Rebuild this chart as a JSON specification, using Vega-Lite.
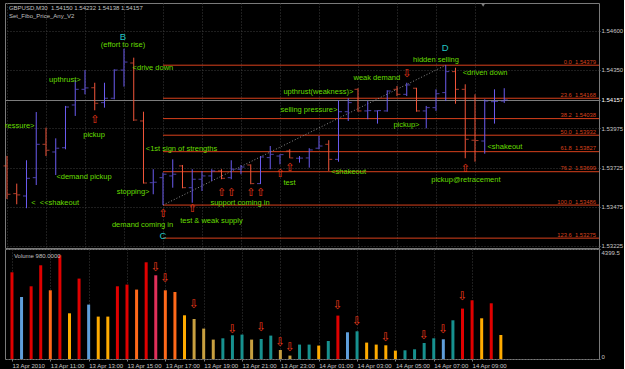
{
  "$schema": "https://vega.github.io/schema/vega-lite/v6.json",
  "background": "#000000",
  "padding": {"left": 2, "top": 2, "right": 0, "bottom": 0},
  "bounds": "flush",
  "spacing": 1,
  "config": {
    "view": {"stroke": "#7a7a7a", "strokeWidth": 1},
    "axis": {"labelFont": "Liberation Sans", "labelFontSize": 6, "labelColor": "#c8c8c8", "gridColor": "#3c3c3c", "gridDash": [1, 2], "tickColor": "#808080", "domain": false},
    "text": {"font": "Liberation Sans"}
  },
  "datasets": {
    "bars": [
      {"t": "2010-04-13T09:00", "o": 1.53736, "h": 1.53800, "l": 1.53525, "c": 1.53555, "v": 3468, "vc": "ultra"},
      {"t": "2010-04-13T09:30", "o": 1.53559, "h": 1.53623, "l": 1.53491, "c": 1.53551, "v": 2480, "vc": "upvol"},
      {"t": "2010-04-13T10:00", "o": 1.53544, "h": 1.53772, "l": 1.53466, "c": 1.53657, "v": 2908, "vc": "ultra"},
      {"t": "2010-04-13T10:30", "o": 1.53661, "h": 1.54080, "l": 1.53614, "c": 1.53874, "v": 3748, "vc": "ultra"},
      {"t": "2010-04-13T11:00", "o": 1.53874, "h": 1.53980, "l": 1.53799, "c": 1.53836, "v": 2748, "vc": "high"},
      {"t": "2010-04-13T11:30", "o": 1.53825, "h": 1.53912, "l": 1.53678, "c": 1.53849, "v": 4148, "vc": "ultra"},
      {"t": "2010-04-13T12:00", "o": 1.53852, "h": 1.54119, "l": 1.53842, "c": 1.54112, "v": 1828, "vc": "above"},
      {"t": "2010-04-13T12:30", "o": 1.54125, "h": 1.54283, "l": 1.54055, "c": 1.54225, "v": 3216, "vc": "ultra"},
      {"t": "2010-04-13T13:00", "o": 1.54225, "h": 1.54348, "l": 1.54193, "c": 1.54234, "v": 2176, "vc": "upvol"},
      {"t": "2010-04-13T13:30", "o": 1.54235, "h": 1.54267, "l": 1.54091, "c": 1.54136, "v": 1696, "vc": "above"},
      {"t": "2010-04-13T14:00", "o": 1.54140, "h": 1.54267, "l": 1.54108, "c": 1.54168, "v": 1696, "vc": "above"},
      {"t": "2010-04-13T14:30", "o": 1.54168, "h": 1.54353, "l": 1.54161, "c": 1.54348, "v": 2908, "vc": "ultra"},
      {"t": "2010-04-13T15:00", "o": 1.54348, "h": 1.54484, "l": 1.54242, "c": 1.54399, "v": 2976, "vc": "ultra"},
      {"t": "2010-04-13T15:30", "o": 1.54393, "h": 1.54427, "l": 1.54023, "c": 1.54029, "v": 2776, "vc": "high"},
      {"t": "2010-04-13T16:00", "o": 1.54023, "h": 1.54082, "l": 1.53623, "c": 1.53627, "v": 3868, "vc": "ultra"},
      {"t": "2010-04-13T16:30", "o": 1.53629, "h": 1.53715, "l": 1.53555, "c": 1.53632, "v": 3348, "vc": "climax"},
      {"t": "2010-04-13T17:00", "o": 1.53661, "h": 1.53693, "l": 1.53486, "c": 1.53683, "v": 2748, "vc": "high"},
      {"t": "2010-04-13T17:30", "o": 1.53672, "h": 1.53778, "l": 1.53597, "c": 1.53683, "v": 2680, "vc": "high"},
      {"t": "2010-04-13T18:00", "o": 1.53736, "h": 1.53742, "l": 1.53593, "c": 1.53597, "v": 1748, "vc": "above"},
      {"t": "2010-04-13T18:30", "o": 1.53597, "h": 1.53715, "l": 1.53501, "c": 1.53651, "v": 1600, "vc": "avg"},
      {"t": "2010-04-13T19:00", "o": 1.53651, "h": 1.53704, "l": 1.53576, "c": 1.53672, "v": 1216, "vc": "avg"},
      {"t": "2010-04-13T19:30", "o": 1.53672, "h": 1.53715, "l": 1.53640, "c": 1.53704, "v": 776, "vc": "avg"},
      {"t": "2010-04-13T20:00", "o": 1.53704, "h": 1.53715, "l": 1.53651, "c": 1.53657, "v": 828, "vc": "low"},
      {"t": "2010-04-13T20:30", "o": 1.53661, "h": 1.53772, "l": 1.53651, "c": 1.53715, "v": 948, "vc": "low"},
      {"t": "2010-04-13T21:00", "o": 1.53715, "h": 1.53742, "l": 1.53683, "c": 1.53729, "v": 976, "vc": "low"},
      {"t": "2010-04-13T21:30", "o": 1.53742, "h": 1.53746, "l": 1.53619, "c": 1.53623, "v": 776, "vc": "avg"},
      {"t": "2010-04-13T22:00", "o": 1.53623, "h": 1.53799, "l": 1.53620, "c": 1.53793, "v": 800, "vc": "low"},
      {"t": "2010-04-13T22:30", "o": 1.53789, "h": 1.53863, "l": 1.53715, "c": 1.53810, "v": 936, "vc": "low"},
      {"t": "2010-04-13T23:00", "o": 1.53799, "h": 1.53810, "l": 1.53746, "c": 1.53808, "v": 360, "vc": "avg"},
      {"t": "2010-04-13T23:30", "o": 1.53831, "h": 1.53842, "l": 1.53785, "c": 1.53787, "v": 136, "vc": "avg"},
      {"t": "2010-04-14T00:00", "o": 1.53785, "h": 1.53799, "l": 1.53757, "c": 1.53786, "v": 576, "vc": "low"},
      {"t": "2010-04-14T00:30", "o": 1.53787, "h": 1.53849, "l": 1.53725, "c": 1.53838, "v": 576, "vc": "low"},
      {"t": "2010-04-14T01:00", "o": 1.53849, "h": 1.53927, "l": 1.53842, "c": 1.53863, "v": 536, "vc": "above"},
      {"t": "2010-04-14T01:30", "o": 1.53874, "h": 1.53900, "l": 1.53704, "c": 1.53778, "v": 720, "vc": "low"},
      {"t": "2010-04-14T02:00", "o": 1.53778, "h": 1.54155, "l": 1.53763, "c": 1.54082, "v": 1736, "vc": "ultra"},
      {"t": "2010-04-14T02:30", "o": 1.54082, "h": 1.54168, "l": 1.54023, "c": 1.54140, "v": 1068, "vc": "upvol"},
      {"t": "2010-04-14T03:00", "o": 1.54225, "h": 1.54232, "l": 1.54082, "c": 1.54087, "v": 1108, "vc": "low"},
      {"t": "2010-04-14T03:30", "o": 1.54087, "h": 1.54150, "l": 1.54034, "c": 1.54089, "v": 656, "vc": "above"},
      {"t": "2010-04-14T04:00", "o": 1.54087, "h": 1.54091, "l": 1.54006, "c": 1.54089, "v": 576, "vc": "above"},
      {"t": "2010-04-14T04:30", "o": 1.54087, "h": 1.54219, "l": 1.54082, "c": 1.54214, "v": 548, "vc": "above"},
      {"t": "2010-04-14T05:00", "o": 1.54225, "h": 1.54246, "l": 1.54182, "c": 1.54193, "v": 336, "vc": "above"},
      {"t": "2010-04-14T05:30", "o": 1.54193, "h": 1.54267, "l": 1.54182, "c": 1.54253, "v": 348, "vc": "low"},
      {"t": "2010-04-14T06:00", "o": 1.54232, "h": 1.54235, "l": 1.54082, "c": 1.54087, "v": 388, "vc": "low"},
      {"t": "2010-04-14T06:30", "o": 1.54087, "h": 1.54119, "l": 1.53976, "c": 1.54108, "v": 640, "vc": "low"},
      {"t": "2010-04-14T07:00", "o": 1.54108, "h": 1.54225, "l": 1.54087, "c": 1.54197, "v": 828, "vc": "low"},
      {"t": "2010-04-14T07:30", "o": 1.54204, "h": 1.54379, "l": 1.54150, "c": 1.54338, "v": 788, "vc": "upvol"},
      {"t": "2010-04-14T08:00", "o": 1.54338, "h": 1.54363, "l": 1.54133, "c": 1.54225, "v": 1548, "vc": "low"},
      {"t": "2010-04-14T08:30", "o": 1.54225, "h": 1.54257, "l": 1.53785, "c": 1.53906, "v": 2016, "vc": "ultra"},
      {"t": "2010-04-14T09:00", "o": 1.53900, "h": 1.54193, "l": 1.53763, "c": 1.53898, "v": 2348, "vc": "ultra"},
      {"t": "2010-04-14T09:30", "o": 1.53895, "h": 1.54161, "l": 1.53814, "c": 1.54150, "v": 1628, "vc": "above"},
      {"t": "2010-04-14T10:00", "o": 1.54146, "h": 1.54225, "l": 1.54006, "c": 1.54148, "v": 2228, "vc": "ultra"},
      {"t": "2010-04-14T10:30", "o": 1.54150, "h": 1.54232, "l": 1.54138, "c": 1.54157, "v": 960, "vc": "above"}
    ],
    "fib": [
      {"label": "0.0\u00a0\u00a01.54379", "price": 1.54379, "start": "2010-04-13T17:00", "end": "2010-04-14T15:21:33"},
      {"label": "23.6\u00a0\u00a01.54168", "price": 1.54168, "start": "2010-04-13T17:00", "end": "2010-04-14T15:21:33"},
      {"label": "38.2\u00a0\u00a01.54038", "price": 1.54038, "start": "2010-04-13T17:00", "end": "2010-04-14T15:21:33"},
      {"label": "50.0\u00a0\u00a01.53932", "price": 1.53932, "start": "2010-04-13T17:00", "end": "2010-04-14T15:21:33"},
      {"label": "61.8\u00a0\u00a01.53827", "price": 1.53827, "start": "2010-04-13T17:00", "end": "2010-04-14T15:21:33"},
      {"label": "76.2\u00a0\u00a01.53699", "price": 1.53699, "start": "2010-04-13T17:00", "end": "2010-04-14T15:21:33"},
      {"label": "100.0\u00a0\u00a01.53486", "price": 1.53486, "start": "2010-04-13T17:00", "end": "2010-04-14T15:21:33"},
      {"label": "123.6\u00a0\u00a01.53275", "price": 1.53275, "start": "2010-04-13T17:00", "end": "2010-04-14T15:21:33"}
    ],
    "cd": [
      {"t": "2010-04-13T17:00", "p": 1.53486},
      {"t": "2010-04-14T07:30", "p": 1.54379}
    ],
    "notes": [
      {"t": "2010-04-13T14:57", "p": 1.54506, "text": "(effort to rise)"},
      {"t": "2010-04-13T16:29", "p": 1.54361, "text": "<drive down"},
      {"t": "2010-04-13T11:58", "p": 1.54285, "text": "upthrust>"},
      {"t": "2010-04-13T09:33", "p": 1.53991, "text": "pressure>"},
      {"t": "2010-04-13T13:28", "p": 1.53933, "text": "pickup"},
      {"t": "2010-04-13T12:57", "p": 1.53665, "text": "<demand pickup"},
      {"t": "2010-04-13T11:28", "p": 1.53499, "text": "<\u00a0\u00a0<<shakeout"},
      {"t": "2010-04-13T17:57", "p": 1.53846, "text": "<1st sign of strengths"},
      {"t": "2010-04-13T15:28", "p": 1.53572, "text": "stopping>"},
      {"t": "2010-04-13T15:57", "p": 1.53358, "text": "demand coming in"},
      {"t": "2010-04-13T19:29", "p": 1.53384, "text": "test & weak supply"},
      {"t": "2010-04-13T20:57", "p": 1.53497, "text": "support coming in"},
      {"t": "2010-04-13T23:29", "p": 1.53629, "text": "test"},
      {"t": "2010-04-14T02:31", "p": 1.53699, "text": "<shakeout"},
      {"t": "2010-04-14T08:32", "p": 1.53646, "text": "pickup@retracement"},
      {"t": "2010-04-14T10:32", "p": 1.53857, "text": "<shakeout"},
      {"t": "2010-04-14T05:29", "p": 1.53997, "text": "pickup>"},
      {"t": "2010-04-14T00:29", "p": 1.54091, "text": "selling pressure>"},
      {"t": "2010-04-14T00:58", "p": 1.54208, "text": "upthrust(weakness)>"},
      {"t": "2010-04-14T03:58", "p": 1.54300, "text": "weak demand"},
      {"t": "2010-04-14T07:00", "p": 1.54415, "text": "hidden selling"},
      {"t": "2010-04-14T09:31", "p": 1.54326, "text": "<driven down"}
    ],
    "letters": [
      {"t": "2010-04-13T14:57", "p": 1.54562, "text": "B"},
      {"t": "2010-04-13T17:00", "p": 1.53289, "text": "C"},
      {"t": "2010-04-14T07:28", "p": 1.54491, "text": "D"}
    ],
    "upArrows": [
      {"t": "2010-04-13T13:30", "p": 1.54029},
      {"t": "2010-04-13T17:00", "p": 1.53426},
      {"t": "2010-04-13T18:30", "p": 1.53459},
      {"t": "2010-04-13T20:00", "p": 1.53565},
      {"t": "2010-04-13T20:30", "p": 1.53565},
      {"t": "2010-04-13T21:30", "p": 1.53565},
      {"t": "2010-04-13T22:00", "p": 1.53565},
      {"t": "2010-04-13T23:00", "p": 1.53683},
      {"t": "2010-04-13T23:30", "p": 1.53720},
      {"t": "2010-04-14T08:30", "p": 1.53716}
    ],
    "downArrows": [
      {"t": "2010-04-14T05:30", "p": 1.54323}
    ],
    "header": [
      {"t": "2010-04-13T09:06", "p": 1.54744, "text": "GBPUSD,M30\u00a0\u00a01.54150 1.54232 1.54138 1.54157"},
      {"t": "2010-04-13T09:06", "p": 1.54693, "text": "Set_Fibo_Price_Any_V2"}
    ],
    "shift": [
      {"t": "2010-04-14T09:25", "p": 1.54763}
    ],
    "volArrows": [
      {"t": "2010-04-13T16:30", "v": 3672},
      {"t": "2010-04-13T17:00", "v": 3220},
      {"t": "2010-04-13T18:30", "v": 2204},
      {"t": "2010-04-13T20:30", "v": 1204},
      {"t": "2010-04-13T22:00", "v": 1272},
      {"t": "2010-04-13T23:00", "v": 672},
      {"t": "2010-04-13T23:30", "v": 472},
      {"t": "2010-04-14T02:00", "v": 2140},
      {"t": "2010-04-14T03:00", "v": 1512},
      {"t": "2010-04-14T04:30", "v": 884},
      {"t": "2010-04-14T06:30", "v": 952},
      {"t": "2010-04-14T07:30", "v": 1204},
      {"t": "2010-04-14T08:30", "v": 2512}
    ],
    "volHeader": [
      {"t": "2010-04-13T09:06", "v": 4124, "text": "Volume 980.0000"}
    ]
  },
  "vconcat": [
    {
      "width": 594,
      "height": 245,
      "layer": [
        {
          "data": {"name": "fib"},
          "mark": {"type": "rule", "color": "#d8401c", "strokeWidth": 1},
          "encoding": {
            "x": {
              "field": "start", "type": "temporal", "title": null,
              "scale": {"domain": [{"year": 2010, "month": 4, "date": 13, "hours": 8, "minutes": 53, "seconds": 51}, {"year": 2010, "month": 4, "date": 14, "hours": 15, "minutes": 21, "seconds": 33}], "nice": false},
              "axis": {"labels": false, "ticks": false, "domain": false, "grid": true, "title": null,
                "values": [
                  {"year": 2010, "month": 4, "date": 13, "hours": 9}, {"year": 2010, "month": 4, "date": 13, "hours": 11},
                  {"year": 2010, "month": 4, "date": 13, "hours": 13}, {"year": 2010, "month": 4, "date": 13, "hours": 15},
                  {"year": 2010, "month": 4, "date": 13, "hours": 17}, {"year": 2010, "month": 4, "date": 13, "hours": 19},
                  {"year": 2010, "month": 4, "date": 13, "hours": 21}, {"year": 2010, "month": 4, "date": 13, "hours": 23},
                  {"year": 2010, "month": 4, "date": 14, "hours": 1}, {"year": 2010, "month": 4, "date": 14, "hours": 3},
                  {"year": 2010, "month": 4, "date": 14, "hours": 5}, {"year": 2010, "month": 4, "date": 14, "hours": 7},
                  {"year": 2010, "month": 4, "date": 14, "hours": 9}
                ]}
            },
            "x2": {"field": "end"},
            "y": {
              "field": "price", "type": "quantitative", "title": null,
              "scale": {"domain": [1.53212, 1.54776], "nice": false, "zero": false},
              "axis": {
                "orient": "right", "title": null, "format": ".5f", "tickSize": 1, "labelPadding": 1,
                "labelOverlap": false, "labelFlush": false, "grid": true,
                "values": [1.54725, 1.546, 1.54475, 1.5435, 1.54225, 1.541, 1.53975, 1.5385, 1.53725, 1.536, 1.53475, 1.5335, 1.53225, 1.54157],
                "labelColor": {"condition": {"test": "datum.value == 1.54157", "value": "#ffffff"}, "value": "#c8c8c8"},
                "gridColor": {"condition": {"test": "datum.value == 1.54157", "value": "#7c7c7c"}, "value": "#3c3c3c"},
                "gridDash": {"condition": {"test": "datum.value == 1.54157", "value": []}, "value": [1, 2]}
              }
            }
          }
        },
        {
          "data": {"name": "fib"},
          "mark": {"type": "text", "color": "#d8401c", "fontSize": 5.8, "align": "right", "baseline": "alphabetic", "dx": -3, "dy": -1.5},
          "encoding": {
            "x": {"field": "end", "type": "temporal"},
            "y": {"field": "price", "type": "quantitative"},
            "text": {"field": "label"}
          }
        },
        {
          "data": {"name": "cd"},
          "mark": {"type": "line", "color": "#8c8c8c", "strokeWidth": 1, "strokeDash": [1, 2]},
          "encoding": {
            "x": {"field": "t", "type": "temporal"},
            "y": {"field": "p", "type": "quantitative"}
          }
        },
        {
          "data": {"name": "bars"},
          "mark": {"type": "rule", "strokeWidth": 1},
          "encoding": {
            "x": {"field": "t", "type": "temporal"},
            "y": {"field": "l", "type": "quantitative"},
            "y2": {"field": "h"},
            "color": {"condition": {"test": "datum.c >= datum.o", "value": "#6b5cf0"}, "value": "#f2553a"}
          }
        },
        {
          "data": {"name": "bars"},
          "mark": {"type": "tick", "orient": "horizontal", "size": 3, "thickness": 1, "xOffset": -2},
          "encoding": {
            "x": {"field": "t", "type": "temporal"},
            "y": {"field": "o", "type": "quantitative"},
            "color": {"condition": {"test": "datum.c >= datum.o", "value": "#6b5cf0"}, "value": "#f2553a"}
          }
        },
        {
          "data": {"name": "bars"},
          "mark": {"type": "tick", "orient": "horizontal", "size": 3, "thickness": 1, "xOffset": 2},
          "encoding": {
            "x": {"field": "t", "type": "temporal"},
            "y": {"field": "c", "type": "quantitative"},
            "color": {"condition": {"test": "datum.c >= datum.o", "value": "#6b5cf0"}, "value": "#f2553a"}
          }
        },
        {
          "data": {"name": "notes"},
          "mark": {"type": "text", "color": "#66dd00", "fontSize": 7.5, "align": "center", "baseline": "middle", "clip": true},
          "encoding": {
            "x": {"field": "t", "type": "temporal"},
            "y": {"field": "p", "type": "quantitative"},
            "text": {"field": "text"}
          }
        },
        {
          "data": {"name": "letters"},
          "mark": {"type": "text", "color": "#22c4c4", "fontSize": 9.5, "align": "center", "baseline": "middle"},
          "encoding": {
            "x": {"field": "t", "type": "temporal"},
            "y": {"field": "p", "type": "quantitative"},
            "text": {"field": "text"}
          }
        },
        {
          "data": {"name": "upArrows"},
          "mark": {"type": "text", "text": "⇧", "font": "DejaVu Sans", "color": "#f03a1a", "fontSize": 11, "align": "center", "baseline": "middle"},
          "encoding": {
            "x": {"field": "t", "type": "temporal"},
            "y": {"field": "p", "type": "quantitative"}
          }
        },
        {
          "data": {"name": "downArrows"},
          "mark": {"type": "text", "text": "⇩", "font": "DejaVu Sans", "color": "#f03a1a", "fontSize": 11, "align": "center", "baseline": "middle"},
          "encoding": {
            "x": {"field": "t", "type": "temporal"},
            "y": {"field": "p", "type": "quantitative"}
          }
        },
        {
          "data": {"name": "header"},
          "mark": {"type": "text", "color": "#c0c0c0", "fontSize": 6, "align": "left", "baseline": "middle"},
          "encoding": {
            "x": {"field": "t", "type": "temporal"},
            "y": {"field": "p", "type": "quantitative"},
            "text": {"field": "text"}
          }
        },
        {
          "data": {"name": "shift"},
          "mark": {"type": "point", "shape": "triangle-down", "filled": true, "size": 18, "color": "#808080", "opacity": 1},
          "encoding": {
            "x": {"field": "t", "type": "temporal"},
            "y": {"field": "p", "type": "quantitative"}
          }
        }
      ]
    },
    {
      "width": 594,
      "height": 110,
      "layer": [
        {
          "data": {"name": "bars"},
          "mark": {"type": "bar", "width": 3},
          "encoding": {
            "x": {
              "field": "t", "type": "temporal", "title": null,
              "scale": {"domain": [{"year": 2010, "month": 4, "date": 13, "hours": 8, "minutes": 53, "seconds": 51}, {"year": 2010, "month": 4, "date": 14, "hours": 15, "minutes": 21, "seconds": 33}], "nice": false},
              "axis": {
                "title": null, "grid": true, "domain": false, "ticks": true, "tickSize": 2, "labelPadding": 1,
                "labelAlign": "left", "labelBaseline": "top", "labelFlush": false, "labelOverlap": false,
                "labelExpr": "(timeFormat(datum.value, '%d %H') == '13 09') ? '13 Apr 2010' : timeFormat(datum.value, '%d %b %H:%M')",
                "values": [
                  {"year": 2010, "month": 4, "date": 13, "hours": 9}, {"year": 2010, "month": 4, "date": 13, "hours": 11},
                  {"year": 2010, "month": 4, "date": 13, "hours": 13}, {"year": 2010, "month": 4, "date": 13, "hours": 15},
                  {"year": 2010, "month": 4, "date": 13, "hours": 17}, {"year": 2010, "month": 4, "date": 13, "hours": 19},
                  {"year": 2010, "month": 4, "date": 13, "hours": 21}, {"year": 2010, "month": 4, "date": 13, "hours": 23},
                  {"year": 2010, "month": 4, "date": 14, "hours": 1}, {"year": 2010, "month": 4, "date": 14, "hours": 3},
                  {"year": 2010, "month": 4, "date": 14, "hours": 5}, {"year": 2010, "month": 4, "date": 14, "hours": 7},
                  {"year": 2010, "month": 4, "date": 14, "hours": 9}
                ]
              }
            },
            "y": {
              "field": "v", "type": "quantitative", "title": null,
              "scale": {"domain": [0, 4399.5], "nice": false, "zero": true},
              "axis": {
                "orient": "right", "title": null, "values": [0, 1500, 2500, 4399.5], "labelExpr": "'' + datum.value",
                "tickSize": 1, "labelPadding": 1, "labelFlush": true, "labelOverlap": false, "grid": true
              }
            },
            "color": {
              "field": "vc", "type": "nominal", "legend": null,
              "scale": {"domain": ["ultra", "high", "above", "avg", "low", "upvol", "climax"], "range": ["#e00000", "#ff6a1a", "#ffab00", "#c8a040", "#17918f", "#5f9fdc", "#e0305a"]}
            }
          }
        },
        {
          "data": {"name": "volArrows"},
          "mark": {"type": "text", "text": "⇩", "font": "DejaVu Sans", "color": "#f03a1a", "fontSize": 12, "align": "center", "baseline": "middle"},
          "encoding": {
            "x": {"field": "t", "type": "temporal"},
            "y": {"field": "v", "type": "quantitative"}
          }
        },
        {
          "data": {"name": "volHeader"},
          "mark": {"type": "text", "color": "#c0c0c0", "fontSize": 6, "align": "left", "baseline": "middle"},
          "encoding": {
            "x": {"field": "t", "type": "temporal"},
            "y": {"field": "v", "type": "quantitative"},
            "text": {"field": "text"}
          }
        }
      ]
    }
  ]
}
